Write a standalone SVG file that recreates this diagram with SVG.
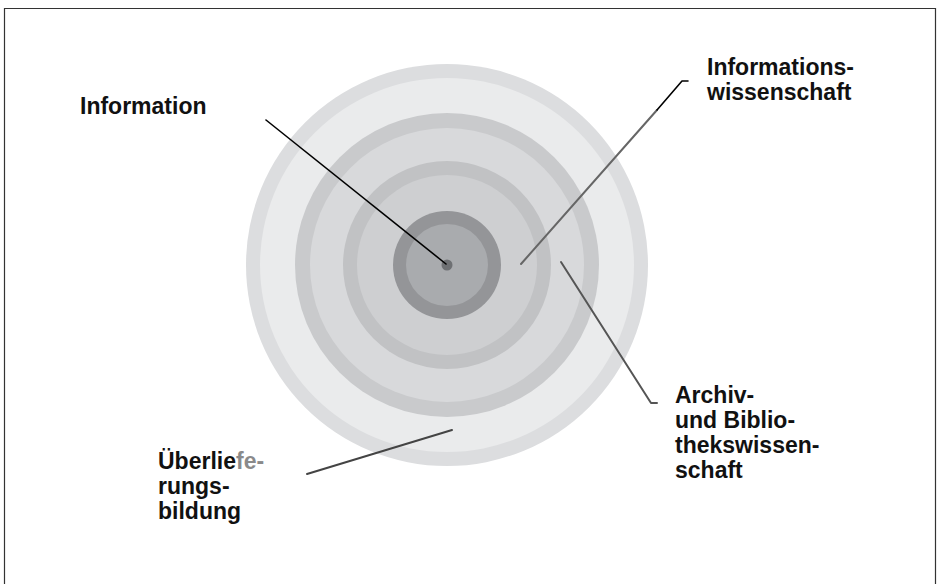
<svg xmlns="http://www.w3.org/2000/svg" width="939" height="584" viewBox="0 0 939 584">
<style>
.lbl{font-family:"Liberation Sans",Arial,sans-serif;font-weight:bold;font-size:23px;fill:#111}
.ln{fill:none;stroke-linecap:round;stroke-linejoin:round}
</style>
<rect x="0" y="0" width="939" height="584" fill="#fff"/>
<path d="M4.5,590 V8.5 H935.5 V590" fill="none" stroke="#333" stroke-width="1.2"/>
<g id="rings">
<circle cx="447" cy="265" r="201" fill="#dcdddf"/>
<circle cx="447" cy="265" r="187" fill="#eaebec"/>
<circle cx="447" cy="265" r="152" fill="#c9cacc"/>
<circle cx="447" cy="265" r="137" fill="#d8d9db"/>
<circle cx="447" cy="265" r="104" fill="#c1c2c4"/>
<circle cx="447" cy="265" r="90" fill="#cecfd1"/>
<circle cx="447" cy="265" r="54" fill="#949598"/>
<circle cx="447" cy="265" r="41" fill="#a9abae"/>
<circle cx="447" cy="265" r="5.5" fill="#6e7073"/>
</g>
<g id="connectors">
<line class="ln" x1="266" y1="120" x2="446" y2="264" stroke="#000" stroke-width="1.6"/>
<line class="ln" x1="521" y1="264" x2="657" y2="110" stroke="#666" stroke-width="2"/>
<polyline class="ln" points="657,110 682,81 688,81" stroke="#000" stroke-width="1.6"/>
<polyline class="ln" points="561,262 651,403 657,403" stroke="#555" stroke-width="2"/>
<line class="ln" x1="452" y1="430" x2="307" y2="474" stroke="#444" stroke-width="2"/>
</g>
<g id="information"><text class="lbl" x="80" y="114">Information</text></g>
<g id="informationswissenschaft"><text class="lbl" x="707" y="75">Informations-<tspan x="707" y="100">wissenschaft</tspan></text></g>
<g id="archiv"><text class="lbl" x="675" y="403">Archiv-<tspan x="675" y="428">und Biblio-</tspan><tspan x="675" y="453">thekswissen-</tspan><tspan x="675" y="478">schaft</tspan></text></g>
<g id="ueberlieferung"><text class="lbl" x="158" y="469">Überlie<tspan fill="#8a8a8a">fe-</tspan><tspan x="158" y="494">rungs-</tspan><tspan x="158" y="519">bildung</tspan></text></g>
</svg>
